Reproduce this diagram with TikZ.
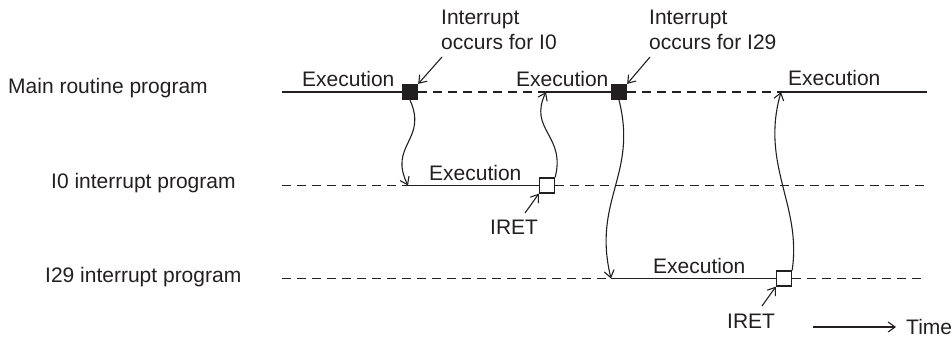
\documentclass[tikz,border=0pt]{standalone}
\usepackage{fontspec}
\setmainfont{Liberation Sans}
\usetikzlibrary{arrows.meta}
\definecolor{ink}{HTML}{231F20}
\begin{document}
\begin{tikzpicture}[x=1pt,y=-1pt,
  every node/.style={text=ink,font=\fontsize{21}{25}\selectfont,inner sep=0pt},
  lbl/.style={anchor=base west},
  solidline/.style={draw=ink,line width=1.5pt},
  dashline/.style={draw=ink,line width=1.5pt,dash pattern=on 8.5pt off 6.5pt},
  sqbox/.style={draw=ink,line width=1.3pt,minimum size=15pt,inner sep=0pt},
  wavy/.style={draw=ink,line width=1.1pt,-{Straight Barb[length=7pt,width=10pt,line width=1.1pt]}},
  pointer/.style={draw=ink,line width=1.1pt,-{Straight Barb[length=7pt,width=10pt,line width=1.1pt]}}]
\useasboundingbox (0,0) rectangle (952,337);
% row labels
\node[lbl] (mainlbl) at (8,93) {Main routine program};
\node[lbl] (i0lbl) at (51,188) {I0 interrupt program};
\node[lbl] (i29lbl) at (45,282) {I29 interrupt program};
% squares
\node[sqbox,fill=ink] (sqa) at (410,92) {};
\node[sqbox,fill=ink] (sqb) at (619,92) {};
\node[sqbox,fill=white] (sqc) at (547,185.5) {};
\node[sqbox,fill=white] (sqd) at (784,278.5) {};
% coordinates
\coordinate (m0) at (282,92);
\coordinate (m1) at (546,92);
\coordinate (m2) at (781,92);
\coordinate (m3) at (927,92);
\coordinate (a0) at (282,185.5);
\coordinate (a1) at (408,185.5);
\coordinate (a2) at (927,185.5);
\coordinate (b0) at (282,278.5);
\coordinate (b1) at (611,278.5);
\coordinate (b2) at (927,278.5);
% main routine line
\draw[solidline] (m0) -- (sqa.west);
\draw[dashline] (sqa.east) -- (m1);
\draw[solidline] (m1) -- (sqb.west);
\draw[dashline] (sqb.east) -- (m2);
\draw[solidline] (m2) -- (m3);
% I0 line
\draw[dashline] (a0) -- (a1);
\draw[solidline] (a1) -- (sqc.west);
\draw[dashline] (sqc.east) -- (a2);
% I29 line
\draw[dashline] (b0) -- (b1);
\draw[solidline] (b1) -- (sqd.west);
\draw[dashline] (sqd.east) -- (b2);
% wavy transfers
\draw[wavy] (sqa.south) .. controls (428,140) and (388,145) .. (a1);
\draw[wavy] (sqc.north east) .. controls (566,135) and (528,130) .. (m1);
\draw[wavy] (sqb.south) .. controls (638,175) and (592,200) .. (b1);
\draw[wavy] (sqd.north east) .. controls (802,205) and (760,165) .. (m2);
% Execution labels
\node[lbl] (ex1) at (302,86) {Execution};
\node[lbl] (ex2) at (516,86) {Execution};
\node[lbl] (ex3) at (788,85) {Execution};
\node[lbl] (ex4) at (429,180) {Execution};
\node[lbl] (ex5) at (653,273) {Execution};
% interrupt labels
\node[lbl] (int1a) at (441,25) {Interrupt};
\node[lbl] (int1b) at (441,50) {occurs for I0};
\node[lbl] (int2a) at (649,25) {Interrupt};
\node[lbl] (int2b) at (649,50) {occurs for I29};
\coordinate (p1) at (442,57);
\coordinate (p2) at (650,57);
\draw[pointer] (p1) -- (sqa.north east);
\draw[pointer] (p2) -- (sqb.north east);
% IRET labels
\node[lbl] (iret1) at (490,234) {IRET};
\node[lbl] (iret2) at (727,328) {IRET};
\coordinate (q1) at (525,213);
\coordinate (q2) at (762,306);
\draw[pointer] (q1) -- (sqc.south west);
\draw[pointer] (q2) -- (sqd.south west);
% time
\coordinate (t0) at (813,327);
\node[lbl] (time) at (906,334) {Time};
\draw[pointer] (t0) -- ([xshift=-10pt]time.west |- t0);
\end{tikzpicture}
\end{document}
